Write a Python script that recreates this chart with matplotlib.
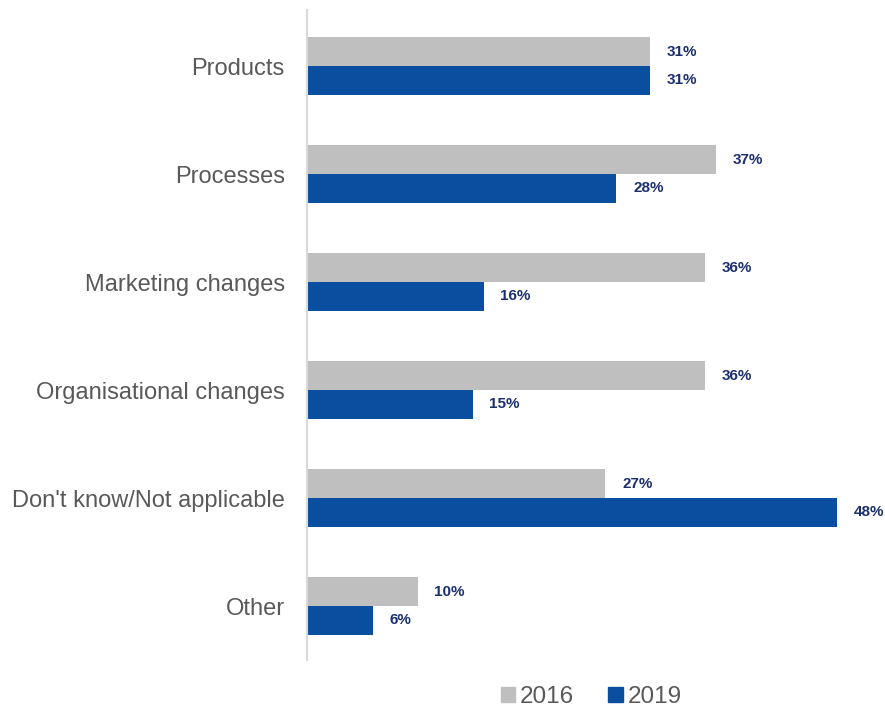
import numpy as np
import matplotlib.pyplot as plt
from matplotlib.patches import Patch

categories = ['Products', 'Processes', 'Marketing changes', 'Organisational changes',
              "Don't know/Not applicable", 'Other']
vals_2016 = [31, 37, 36, 36, 27, 10]
vals_2019 = [31, 28, 16, 15, 48, 6]
years = ['2016', '2019']

plt.rcParams['font.family'] = ['Liberation Sans', 'DejaVu Sans']

fig = plt.figure(figsize=(8.85, 7.09), dpi=100)
ax = fig.add_axes([0.347, 0.069, 0.653, 0.917])

y = np.arange(len(categories))
h = 0.265
c16 = '#BFBFBF'
c19 = '#0A4F9F'
ax.barh(y - h / 2, vals_2016, height=h, color=c16)
ax.barh(y + h / 2, vals_2019, height=h, color=c19)

for i in range(len(categories)):
    ax.text(vals_2016[i] + 1.5, y[i] - h / 2, str(vals_2016[i]) + '%', va='center', ha='left',
            fontsize=11, fontweight='bold', color='#1B2F6E')
    ax.text(vals_2019[i] + 1.5, y[i] + h / 2, str(vals_2019[i]) + '%', va='center', ha='left',
            fontsize=11, fontweight='bold', color='#1B2F6E')

ax.set_yticks(y)
ax.set_yticklabels(categories, fontsize=17, color='#595959')
ax.tick_params(axis='y', length=0, pad=16)
ax.set_xticks([])
ax.set_xlim(0, 52.3)
ax.set_ylim(5.5, -0.52)
for s in ['top', 'right', 'bottom']:
    ax.spines[s].set_visible(False)
ax.spines['left'].set_color('#D9D9D9')
ax.spines['left'].set_linewidth(1.5)

handles = [Patch(color=c16, label=years[0]), Patch(color=c19, label=years[1])]
fig.legend(handles=handles, loc='center', bbox_to_anchor=(0.668, 0.017), ncol=2, frameon=False,
           fontsize=17.5, labelcolor='#595959', handlelength=0.6, handleheight=0.6,
           handletextpad=0.2, columnspacing=1.4)

fig.savefig('out.png', dpi=100)
